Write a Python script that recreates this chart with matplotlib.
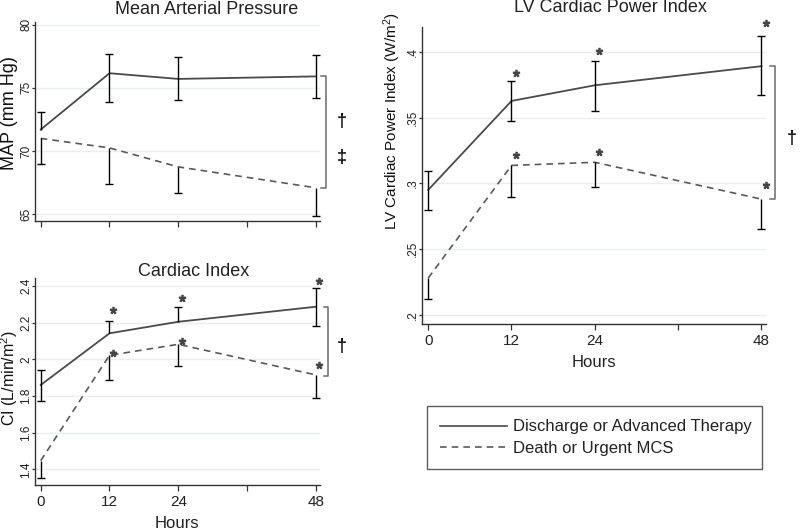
import matplotlib
matplotlib.use("Agg")
import matplotlib.pyplot as plt

plt.rcParams["font.family"] = ["Liberation Sans", "DejaVu Sans"]
plt.rcParams["mathtext.fontset"] = "custom"
plt.rcParams["mathtext.rm"] = "Liberation Sans"
plt.rcParams["mathtext.it"] = "Liberation Sans:italic"

hours = [0, 12, 24, 48]
xticks = [0, 12, 24, 36, 48]
xticklabels = ["0", "12", "24", "", "48"]
legend_labels = ["Discharge or Advanced Therapy", "Death or Urgent MCS"]

# mean arterial pressure (mm Hg)
map_dis = [71.7, 76.15, 75.7, 75.9]
map_dis_lo = [71.7, 73.9, 74.0, 74.2]
map_dis_hi = [73.05, 77.7, 77.4, 77.6]
map_dth = [71.0, 70.25, 68.75, 67.1]
map_dth_lo = [68.95, 67.4, 66.7, 64.85]
map_dth_hi = [71.0, 70.25, 68.75, 67.1]

# cardiac index (L/min/m2)
ci_dis = [1.86, 2.142, 2.205, 2.287]
ci_dis_lo = [1.77, 2.142, 2.205, 2.182]
ci_dis_hi = [1.942, 2.209, 2.284, 2.39]
ci_dth = [1.447, 2.022, 2.082, 1.915]
ci_dth_lo = [1.355, 1.887, 1.964, 1.787]
ci_dth_hi = [1.447, 2.022, 2.082, 1.915]
ci_star_hours = [12, 24, 48]
ci_star_dis = [2.269, 2.336, 2.427]
ci_star_dth = [2.033, 2.100, 1.969]

# LV cardiac power index (W/m2)
cpi_dis = [0.295, 0.3626, 0.3745, 0.389]
cpi_dis_lo = [0.280, 0.3475, 0.355, 0.367]
cpi_dis_hi = [0.309, 0.378, 0.393, 0.412]
cpi_dth = [0.228, 0.3136, 0.316, 0.288]
cpi_dth_lo = [0.212, 0.290, 0.297, 0.265]
cpi_dth_hi = [0.228, 0.3136, 0.316, 0.288]
cpi_star_hours = [12, 24, 48]
cpi_star_dis = [0.384, 0.4008, 0.4216]
cpi_star_dth = [0.3215, 0.324, 0.2987]

LINE_DIS = "#4a4a4a"
LINE_DTH = "#5a5a5a"
GRID = "#e6f0f2"
BRACKET = "#6a6a6a"


def err_bars(ax, x, mid, lo, hi):
    ax.vlines(x, lo, hi, color="k", lw=1.0, zorder=3)
    for xi, m, l, h in zip(x, mid, lo, hi):
        for v in (l, h):
            if abs(v - m) > 1e-9:
                ax.plot([xi], [v], marker="_", ms=6, mew=1.0, color="k",
                        zorder=3)


def style_axes(ax, yticks, yticklabels, ylim, show_xlabels, ytick_size):
    ax.set_xlim(-1.0, 48.7)
    ax.set_ylim(*ylim)
    for s in ("top", "right"):
        ax.spines[s].set_visible(False)
    for s in ("left", "bottom"):
        ax.spines[s].set_color("#333333")
        ax.spines[s].set_linewidth(1.0)
    ax.set_yticks(yticks)
    ax.set_yticklabels(yticklabels, rotation=90, va="center",
                       fontsize=ytick_size, color="#222222")
    ax.set_xticks(xticks)
    if show_xlabels:
        ax.set_xticklabels(xticklabels, fontsize=11, color="#222222")
    else:
        ax.set_xticklabels([])
    ax.tick_params(axis="x", direction="out", length=4, width=0.9,
                   color="#333333", pad=3)
    ax.tick_params(axis="y", direction="out", length=2, width=0.9,
                   color="#333333", pad=0)
    for yt in yticks:
        ax.axhline(yt, color=GRID, lw=1.0, zorder=0)


def draw_pair(ax, dis, dis_lo, dis_hi, dth, dth_lo, dth_hi):
    ax.plot(hours, dis, color=LINE_DIS, lw=1.3, zorder=2)
    ax.plot(hours, dth, color=LINE_DTH, lw=1.2, ls=(0, (4, 3)), zorder=2)
    err_bars(ax, hours, dis, dis_lo, dis_hi)
    err_bars(ax, hours, dth, dth_lo, dth_hi)


def bracket(ax, x0, x1, top, bottom):
    ax.plot([x0, x1, x1, x0], [top, top, bottom, bottom], color=BRACKET,
            lw=1.1, clip_on=False)


def stars(ax, xs, ys, dx):
    ax.plot([x + dx for x in xs], ys, ls="none", marker="$*$", ms=4.5,
            color="#444444", clip_on=False)


def mark(ax, x, y, s):
    ax.text(x, y, s, fontsize=13, fontweight="bold", ha="center",
            va="center", clip_on=False, color="#111111")


fig = plt.figure(figsize=(8.0, 5.32), dpi=100)

# --- Mean arterial pressure
ax1 = fig.add_axes([0.04375, 0.5852, 0.356, 0.3735])
draw_pair(ax1, map_dis, map_dis_lo, map_dis_hi, map_dth, map_dth_lo, map_dth_hi)
style_axes(ax1, [65, 70, 75, 80], ["65", "70", "75", "80"], (64.5, 80.2),
           False, 8.5)
bracket(ax1, 48.9, 49.8, map_dis[-1], map_dth[-1])
mark(ax1, 52.5, 72.3, "\u2020")
mark(ax1, 52.5, 69.5, "\u2021")
fig.text(207 / 800, 1 - 9 / 532, "Mean Arterial Pressure", fontsize=13,
         ha="center", va="center", color="#222222")
fig.text(10 / 800, 1 - 113 / 532, "MAP (mm Hg)", fontsize=13, rotation=90,
         ha="center", va="center", color="#111111")

# --- Cardiac index
ax2 = fig.add_axes([0.04375, 0.0883, 0.356, 0.3885])
draw_pair(ax2, ci_dis, ci_dis_lo, ci_dis_hi, ci_dth, ci_dth_lo, ci_dth_hi)
style_axes(ax2, [1.4, 1.6, 1.8, 2.0, 2.2, 2.4],
           ["1.4", "1.6", "1.8", "2", "2.2", "2.4"], (1.314, 2.442),
           True, 8.5)
stars(ax2, ci_star_hours, ci_star_dis, 0.6)
stars(ax2, ci_star_hours, ci_star_dth, 0.6)
bracket(ax2, 49.45, 50.15, ci_dis[-1], ci_dth[-1] - 0.006)
mark(ax2, 52.6, 2.069, "\u2020")
ax2.set_xlabel("Hours", fontsize=12, color="#222222", labelpad=5)
fig.text(194 / 800, 1 - 271 / 532, "Cardiac Index", fontsize=13,
         ha="center", va="center", color="#222222")
fig.text(9.5 / 800, 1 - 378 / 532, "CI (L/min/m$^2$)", fontsize=11.5,
         rotation=90, ha="center", va="center", color="#111111")

# --- LV cardiac power index
ax3 = fig.add_axes([0.527, 0.3904, 0.431, 0.5594])
draw_pair(ax3, cpi_dis, cpi_dis_lo, cpi_dis_hi, cpi_dth, cpi_dth_lo,
          cpi_dth_hi)
style_axes(ax3, [0.2, 0.25, 0.3, 0.35, 0.4], [".2", ".25", ".3", ".35", ".4"],
           (0.1929, 0.419), True, 8.5)
ax3.set_xlim(-0.95, 48.72)
stars(ax3, cpi_star_hours, cpi_star_dis, 0.6)
stars(ax3, cpi_star_hours, cpi_star_dth, 0.6)
bracket(ax3, 49.3, 49.9, cpi_dis[-1], cpi_dth[-1])
mark(ax3, 52.4, 0.3344, "\u2020")
ax3.set_xlabel("Hours", fontsize=12, color="#222222", labelpad=5)
fig.text(610 / 800, 1 - 8 / 532, "LV Cardiac Power Index", fontsize=13,
         ha="center", va="center", color="#222222")
fig.text(392 / 800, 1 - 121 / 532, "LV Cardiac Power Index (W/m$^2$)",
         fontsize=11, rotation=90, ha="center", va="center", color="#111111")

# --- legend
h1, = ax3.plot([], [], color=LINE_DIS, lw=1.2)
h2, = ax3.plot([], [], color=LINE_DTH, lw=1.2, ls=(0, (4, 3)))
leg = fig.legend([h1, h2], legend_labels,
                 loc="upper left", mode="expand",
                 bbox_to_anchor=(427 / 800, 1 - 472 / 532, 335 / 800, 66 / 532),
                 fontsize=12, handlelength=4.0, handletextpad=0.35,
                 borderpad=0.8, labelspacing=0.4, fancybox=False,
                 frameon=True, borderaxespad=0.0)
leg.get_frame().set_edgecolor("#333333")
leg.get_frame().set_linewidth(1.0)
for t in leg.get_texts():
    t.set_color("#222222")

fig.savefig("out.png", dpi=100, facecolor="white")
